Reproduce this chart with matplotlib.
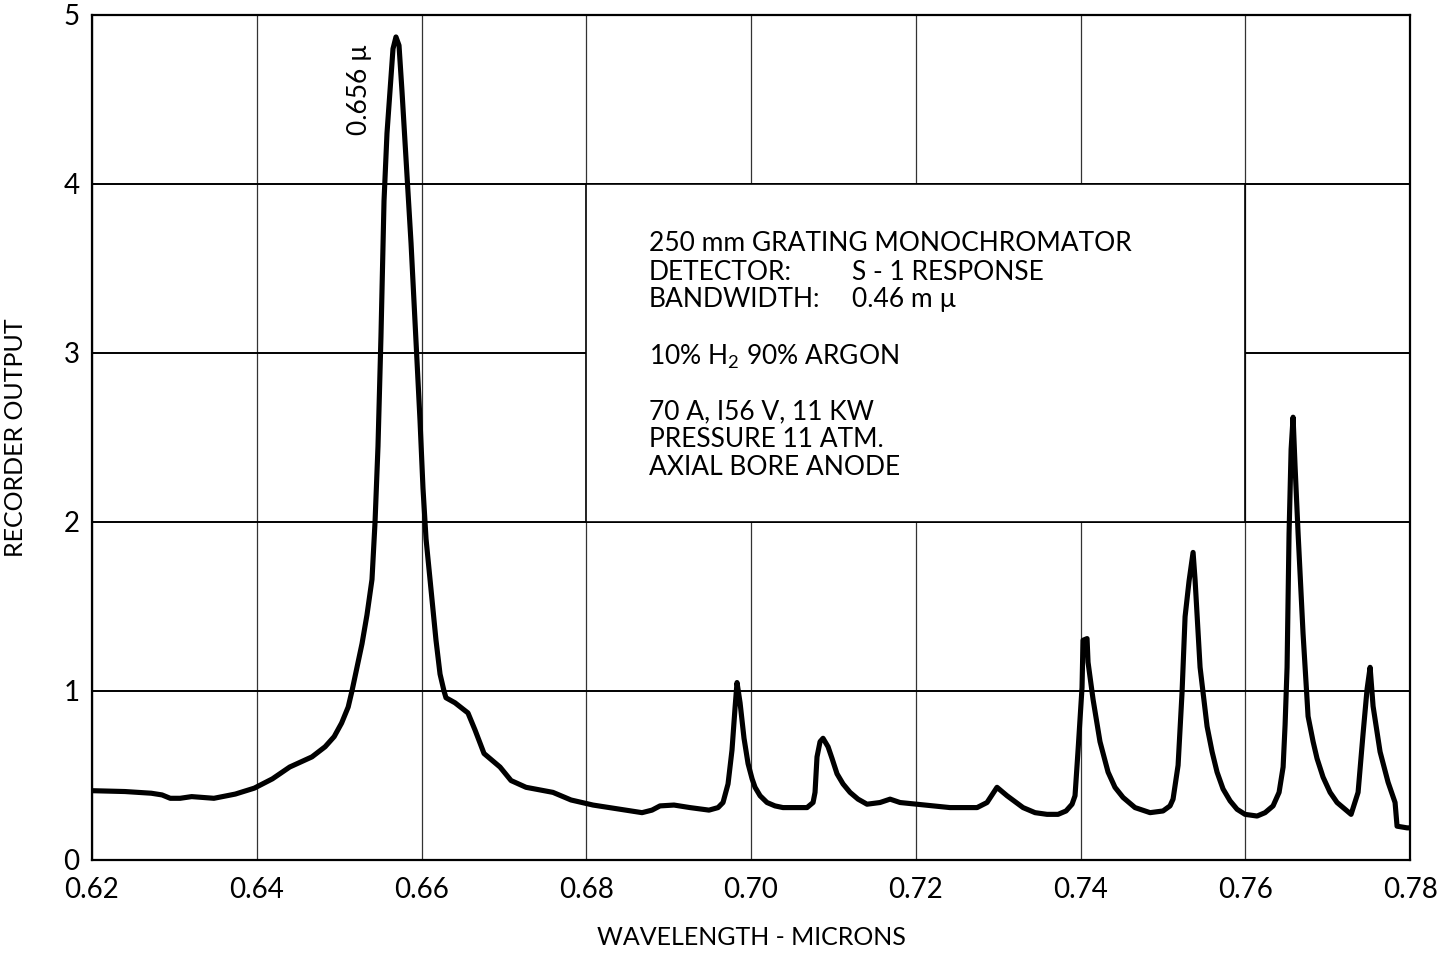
import matplotlib
matplotlib.use("Agg")
import matplotlib.pyplot as plt
from matplotlib.patches import Rectangle

plt.rcParams["font.family"] = ["Lato", "DejaVu Sans"]
plt.rcParams["mathtext.fontset"] = "custom"
plt.rcParams["mathtext.rm"] = "Lato"
plt.rcParams["mathtext.it"] = "Lato"

# Recorded spectrum: wavelength (microns) vs recorder output
wavelength = [
    0.6200, 0.6240, 0.6272, 0.6285, 0.6295, 0.6307, 0.6321, 0.6335, 0.6348,
    0.6374, 0.6397, 0.6419, 0.6440, 0.6467, 0.6483, 0.6494, 0.6503, 0.6511,
    0.65156, 0.65217, 0.65278, 0.65338, 0.65399, 0.65436, 0.65472, 0.65508,
    0.65545, 0.65581, 0.65618, 0.65654, 0.65690, 0.65727, 0.65763, 0.65800,
    0.65836, 0.65873, 0.65909, 0.65945, 0.65982, 0.66018, 0.66055, 0.66103,
    0.66176, 0.66225, 0.66273, 0.66297, 0.66407, 0.66564, 0.66649, 0.66759,
    0.66953, 0.67087, 0.67269, 0.67596, 0.67815, 0.68082, 0.68410, 0.68677,
    0.68798, 0.68895, 0.69065, 0.69259, 0.69490, 0.69600, 0.69660, 0.69721,
    0.69769, 0.69806, 0.69830, 0.69867, 0.69915, 0.69964, 0.70013, 0.70049,
    0.70110, 0.70194, 0.70291, 0.70388, 0.70680, 0.70753, 0.70777, 0.70801,
    0.70838, 0.70874, 0.70935, 0.70984, 0.71044, 0.71117, 0.71202, 0.71299,
    0.71408, 0.71566, 0.71688, 0.71809, 0.72015, 0.72416, 0.72744, 0.72865,
    0.72986, 0.73108, 0.73302, 0.73448, 0.73593, 0.73727, 0.73824, 0.73897,
    0.73933, 0.73970, 0.74018, 0.74030, 0.74079, 0.74091, 0.74152, 0.74236,
    0.74334, 0.74418, 0.74516, 0.74661, 0.74844, 0.75001, 0.75086, 0.75123,
    0.75184, 0.75232, 0.75269, 0.75317, 0.75366, 0.75390, 0.75451, 0.75536,
    0.75597, 0.75657, 0.75730, 0.75815, 0.75900, 0.75997, 0.76143, 0.76240,
    0.76337, 0.76410, 0.76459, 0.76483, 0.76507, 0.76531, 0.76556, 0.76580,
    0.76604, 0.76641, 0.76701, 0.76762, 0.76823, 0.76871, 0.76944, 0.77029,
    0.77114, 0.77187, 0.77284, 0.77369, 0.77430, 0.77478, 0.77515, 0.77551,
    0.77636, 0.77733, 0.77818, 0.77842, 0.77964, 0.78000,
]
output = [
    0.41, 0.405, 0.395, 0.385, 0.365, 0.365, 0.375, 0.37, 0.365,
    0.39, 0.425, 0.48, 0.55, 0.61, 0.67, 0.73, 0.81, 0.905,
    1.00, 1.14, 1.28, 1.45, 1.66, 2.00, 2.45, 3.10,
    3.90, 4.30, 4.55, 4.80, 4.87, 4.82, 4.55, 4.25,
    3.95, 3.65, 3.30, 2.95, 2.60, 2.20, 1.90, 1.66,
    1.30, 1.10, 1.00, 0.96, 0.93, 0.87, 0.77, 0.63,
    0.55, 0.47, 0.43, 0.40, 0.355, 0.325, 0.30, 0.28,
    0.295, 0.32, 0.325, 0.31, 0.295, 0.31, 0.34, 0.45,
    0.65, 0.90, 1.05, 0.93, 0.72, 0.57, 0.48, 0.43,
    0.38, 0.34, 0.32, 0.31, 0.31, 0.34, 0.40, 0.61,
    0.70, 0.72, 0.67, 0.60, 0.51, 0.45, 0.40, 0.36,
    0.33, 0.34, 0.36, 0.34, 0.33, 0.31, 0.31, 0.34,
    0.43, 0.38, 0.31, 0.28, 0.27, 0.27, 0.29, 0.33,
    0.38, 0.65, 1.02, 1.30, 1.31, 1.17, 0.95, 0.70,
    0.52, 0.43, 0.37, 0.31, 0.28, 0.29, 0.32, 0.36,
    0.56, 0.99, 1.44, 1.65, 1.82, 1.66, 1.14, 0.79,
    0.64, 0.52, 0.42, 0.35, 0.30, 0.27, 0.26, 0.28,
    0.32, 0.40, 0.55, 0.80, 1.14, 1.93, 2.43, 2.62,
    2.33, 1.93, 1.34, 0.85, 0.70, 0.60, 0.49, 0.40,
    0.34, 0.31, 0.27, 0.40, 0.75, 1.01, 1.14, 0.91,
    0.64, 0.46, 0.34, 0.20, 0.19, 0.19,
]

x_ticks = [0.62, 0.64, 0.66, 0.68, 0.70, 0.72, 0.74, 0.76, 0.78]
x_tick_labels = ["0.62", "0.64", "0.66", "0.68", "0.70", "0.72", "0.74", "0.76", "0.78"]
y_ticks = [0, 1, 2, 3, 4, 5]
y_tick_labels = ["0", "1", "2", "3", "4", "5"]

peak_label = "0.656 \u00b5"
info_lines = [
    "250 mm GRATING MONOCHROMATOR",
    "DETECTOR:",
    "BANDWIDTH:",
    "10% H$_{\\mathrm{2}}$ 90% ARGON",
    "70 A, I56 V, 11 KW",
    "PRESSURE 11 ATM.",
    "AXIAL BORE ANODE",
]
info_values = ["S - 1 RESPONSE", "0.46 m \u00b5"]

fig = plt.figure(figsize=(14.44, 9.55), dpi=100)
ax = fig.add_axes([0.0637, 0.0995, 0.9128, 0.8848])

ax.set_xlim(0.62, 0.78)
ax.set_ylim(0, 5)
ax.set_xticks(x_ticks)
ax.set_xticklabels(x_tick_labels)
ax.set_yticks(y_ticks)
ax.set_yticklabels(y_tick_labels)
ax.tick_params(axis="both", length=0, labelsize=20)
ax.tick_params(axis="x", pad=12)
ax.tick_params(axis="y", pad=9)

ax.set_axisbelow(True)
ax.grid(axis="x", color="#333333", linewidth=0.9)
ax.grid(axis="y", color="black", linewidth=1.4)
for side in ax.spines.values():
    side.set_linewidth(1.6)
    side.set_color("black")

# blank panel holding the run conditions
ax.add_patch(Rectangle((0.68, 2), 0.08, 2, facecolor="white",
                       edgecolor="black", linewidth=1.2, zorder=1))

ax.plot(wavelength, output, color="black", linewidth=3.7,
        solid_joinstyle="round", solid_capstyle="round", zorder=3)

ax.text(0.6525, 4.56, peak_label, rotation=90, ha="center", va="center",
        fontsize=19)

line_y = [3.645, 3.479, 3.314, 2.976, 2.651, 2.491, 2.320]
for text, yy in zip(info_lines, line_y):
    ax.text(0.6876, yy, text, ha="left", va="center", fontsize=19, zorder=4)
for text, yy in zip(info_values, line_y[1:3]):
    ax.text(0.7123, yy, text, ha="left", va="center", fontsize=19, zorder=4)

ax.set_xlabel("WAVELENGTH - MICRONS", fontsize=18, labelpad=17)
ax.set_ylabel("RECORDER OUTPUT", fontsize=18, labelpad=26)

fig.savefig("out.png", dpi=100, facecolor="white")
